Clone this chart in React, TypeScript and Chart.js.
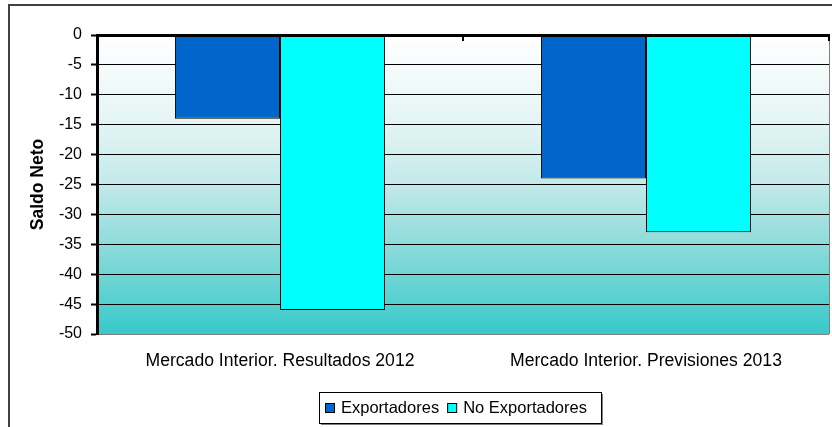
import React, { useEffect, useRef } from "react";
import { Chart, registerables } from "chart.js";

Chart.register(...registerables);

const categories = ["Mercado Interior. Resultados 2012", "Mercado Interior. Previsiones 2013"];
const seriesNames = ["Exportadores", "No Exportadores"];
const exportadores = [-14, -24];
const noExportadores = [-46, -33];
const seriesColors = ["#0066CC", "#00FFFF"];
const yMin = -50;
const yMax = 0;
const yStep = 5;
const yTitle = "Saldo Neto";

const FONT = '"Liberation Sans", Arial, sans-serif';

const decorPlugin = {
  id: "decor",
  beforeDraw(chart: any) {
    const { ctx, chartArea: a } = chart;
    ctx.save();
    ctx.fillStyle = "#FFFFFF";
    ctx.fillRect(0, 0, chart.width, chart.height);
    const g = ctx.createLinearGradient(0, a.top, 0, a.bottom);
    g.addColorStop(0, "#FFFFFF");
    g.addColorStop(0.3, "#E3F4F4");
    g.addColorStop(0.5, "#C2E9E9");
    g.addColorStop(0.7, "#8EDBDB");
    g.addColorStop(1, "#38C9C9");
    ctx.fillStyle = g;
    ctx.fillRect(a.left, a.top, a.right - a.left, a.bottom - a.top);
    ctx.restore();
  },
  afterDatasetsDraw(chart: any) {
    const { ctx, chartArea: a } = chart;
    const x = chart.scales.x;
    const y = chart.scales.y;
    const y0 = y.getPixelForValue(0);
    ctx.save();
    ctx.strokeStyle = "#808080";
    ctx.lineWidth = 1;
    ctx.beginPath();
    ctx.moveTo(Math.round(a.right) + 0.5, a.top);
    ctx.lineTo(Math.round(a.right) + 0.5, a.bottom);
    ctx.stroke();
    ctx.strokeStyle = "#000";
    ctx.lineWidth = 3;
    ctx.beginPath();
    ctx.moveTo(a.left, Math.round(y0) + 0.5);
    ctx.lineTo(a.right + 1, Math.round(y0) + 0.5);
    ctx.stroke();
    ctx.lineWidth = 2;
    for (let i = 0; i <= categories.length; i++) {
      const px = Math.round(x.getPixelForValue(i - 0.5));
      ctx.beginPath();
      ctx.moveTo(px, y0);
      ctx.lineTo(px, y0 + 6);
      ctx.stroke();
    }
    ctx.restore();
  },
  afterDraw(chart: any) {
    const { ctx } = chart;
    ctx.save();
    ctx.strokeStyle = "#404040";
    ctx.lineWidth = 2;
    ctx.strokeRect(9, 5, 1000, 1000);
    ctx.font = "16.5px " + FONT;
    ctx.textBaseline = "middle";
    ctx.textAlign = "left";
    const box = 10;
    const gapBoxText = 6;
    const gapItems = 8;
    const pad = 6;
    const items = chart.data.datasets.map((d: any) => ({
      label: d.label,
      color: d.backgroundColor,
      w: ctx.measureText(d.label).width,
    }));
    let contentW = 0;
    items.forEach((it: any, i: number) => {
      contentW += box + gapBoxText + it.w + (i < items.length - 1 ? gapItems : 0);
    });
    const lw = Math.round(contentW + pad * 2 + 8);
    const lh = 31;
    const cx = 460;
    const lx = Math.round(cx - lw / 2);
    const ly = 392;
    ctx.fillStyle = "#808080";
    ctx.fillRect(lx + 2, ly + 2, lw, lh);
    ctx.fillStyle = "#FFFFFF";
    ctx.fillRect(lx, ly, lw, lh);
    ctx.strokeStyle = "#000";
    ctx.lineWidth = 1;
    ctx.strokeRect(lx + 0.5, ly + 0.5, lw, lh);
    let cur = lx + pad;
    const cy = ly + lh / 2 + 0.5;
    items.forEach((it: any) => {
      ctx.fillStyle = it.color;
      ctx.fillRect(cur, Math.round(cy - box / 2), box, box);
      ctx.strokeStyle = "#000";
      ctx.strokeRect(cur + 0.5, Math.round(cy - box / 2) + 0.5, box - 1, box - 1);
      cur += box + gapBoxText;
      ctx.fillStyle = "#000";
      ctx.fillText(it.label, cur, cy);
      cur += it.w + gapItems;
    });
    ctx.restore();
  },
};

export default function App() {
  const ref = useRef<HTMLCanvasElement | null>(null);
  useEffect(() => {
    if (!ref.current) return;
    Chart.defaults.font.family = FONT;
    Chart.defaults.color = "#000";
    const chart = new Chart(ref.current, {
      type: "bar",
      data: {
        labels: categories,
        datasets: [
          {
            label: seriesNames[0],
            data: exportadores,
            backgroundColor: seriesColors[0],
            borderColor: "#000",
            borderWidth: 1,
            categoryPercentage: 0.574,
            barPercentage: 1,
          },
          {
            label: seriesNames[1],
            data: noExportadores,
            backgroundColor: seriesColors[1],
            borderColor: "#000",
            borderWidth: 1,
            categoryPercentage: 0.574,
            barPercentage: 1,
          },
        ],
      },
      options: {
        responsive: false,
        animation: false,
        events: [],
        layout: { padding: { top: 35, right: 3, left: 0, bottom: 0 } },
        plugins: {
          legend: { display: false },
          tooltip: { enabled: false },
          title: { display: false },
        },
        scales: {
          x: {
            type: "category",
            position: "bottom",
            offset: true,
            grid: { display: false, drawTicks: false },
            border: { display: false },
            ticks: { font: { size: 17.6 }, padding: 17, color: "#000", maxRotation: 0, autoSkip: false },
            afterFit: (s: any) => {
              s.height = 93;
            },
          },
          y: {
            min: yMin,
            max: yMax,
            position: "left",
            ticks: { stepSize: yStep, font: { size: 16 }, padding: 9, color: "#000" },
            grid: {
              color: (c: any) => (c.tick && c.tick.value === yMin ? "#808080" : "#000"),
              lineWidth: 1,
              drawTicks: true,
              tickLength: 6,
              tickColor: "#000",
              tickWidth: 2,
            },
            border: { display: true, color: "#000", width: 3 },
            title: {
              display: true,
              text: yTitle,
              font: { size: 17.5, weight: "bold" },
              color: "#000",
              padding: { top: 28, bottom: 0 },
            },
            afterFit: (s: any) => {
              s.width = 97;
            },
          },
        },
      },
      plugins: [decorPlugin],
    });
    return () => chart.destroy();
  }, []);
  return (
    <div style={{ position: "fixed", left: 0, top: 0, width: 832, height: 427, background: "#fff" }}>
      <canvas ref={ref} width={832} height={427} style={{ display: "block" }} />
    </div>
  );
}
